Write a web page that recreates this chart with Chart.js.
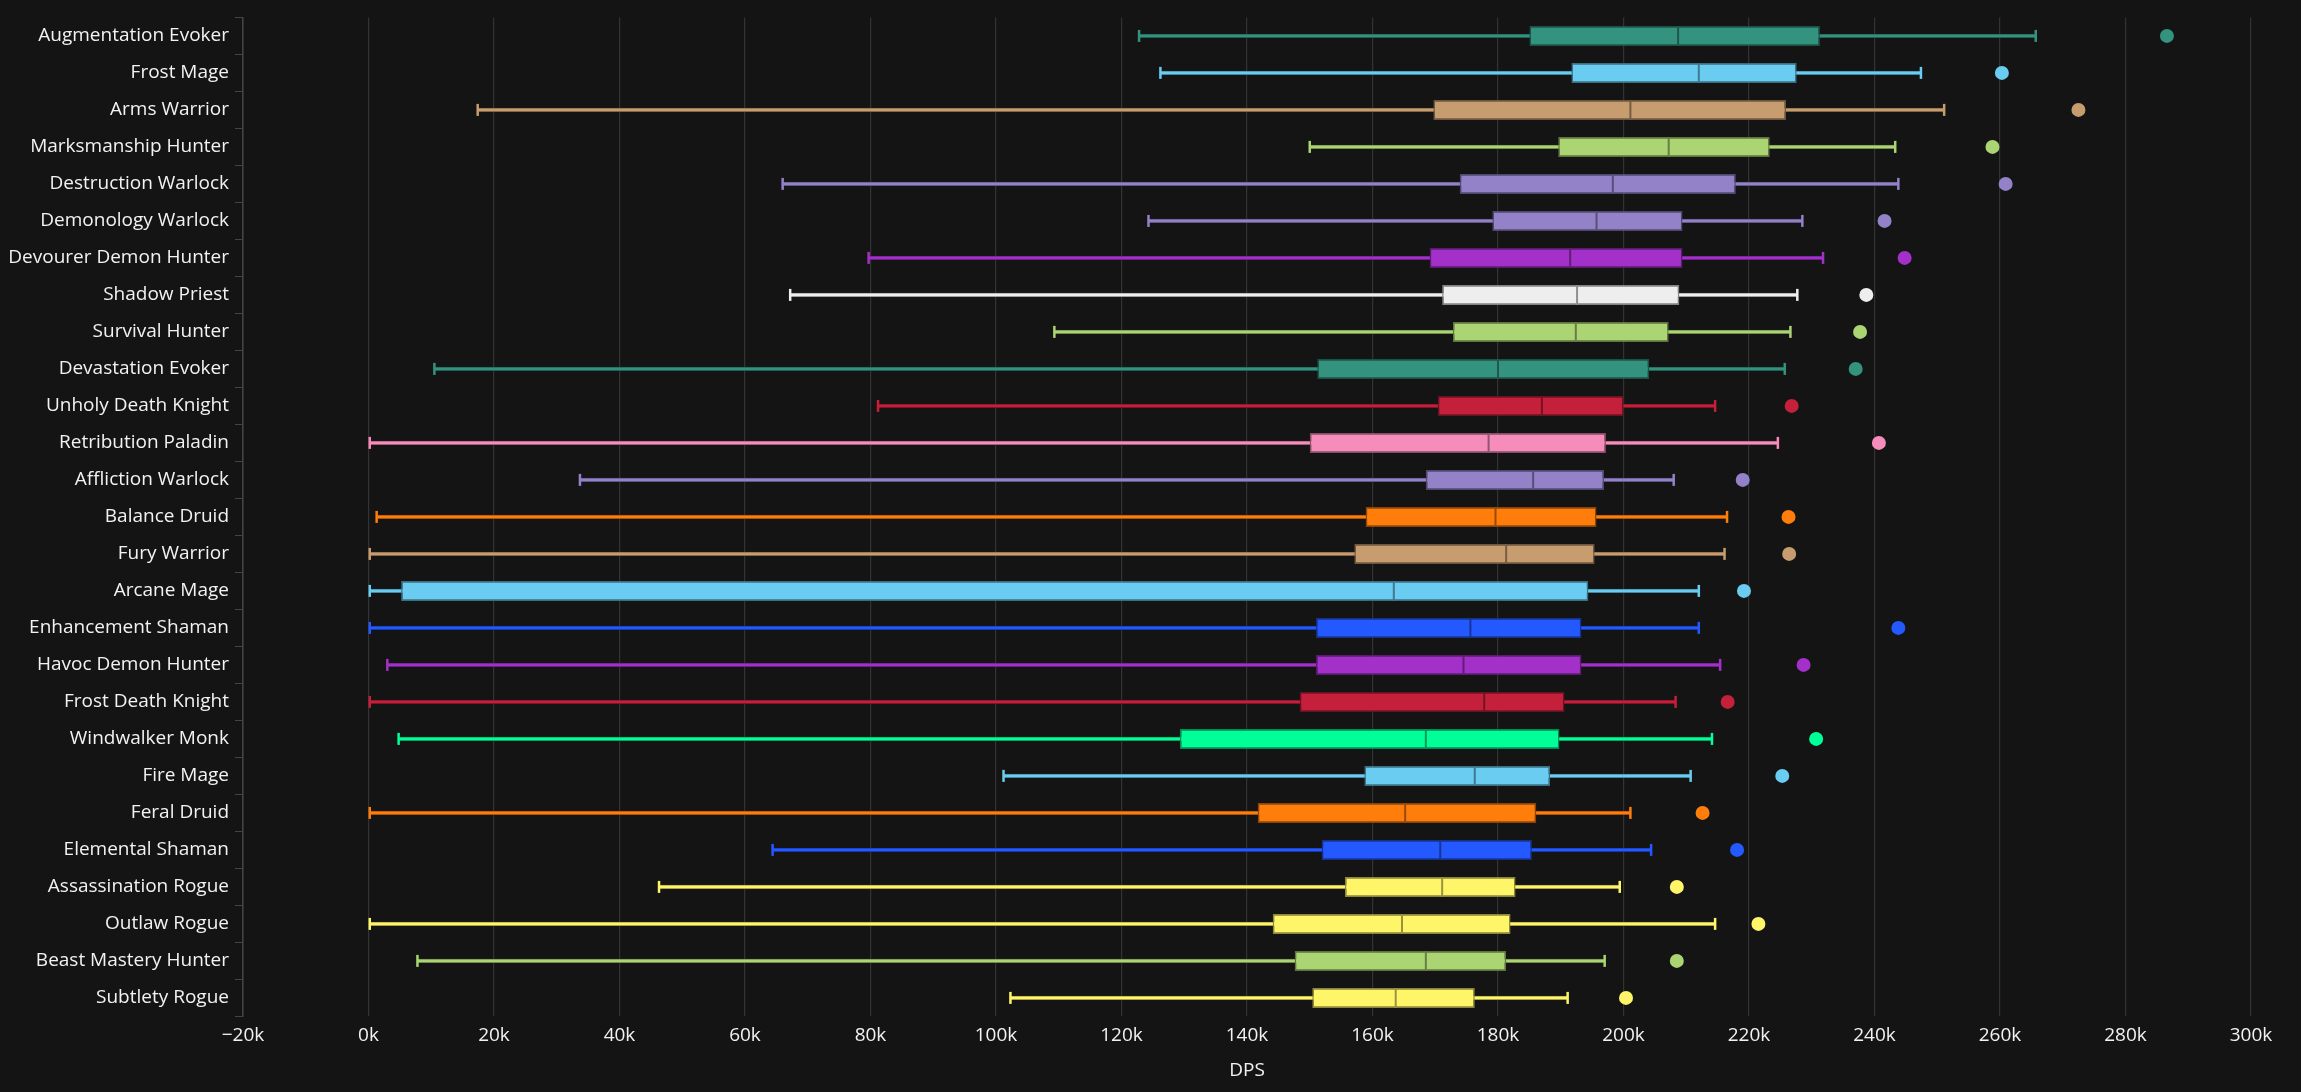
<!DOCTYPE html>
<html>
<head>
<meta charset="utf-8">
<title>DPS box plot</title>
<script src="https://cdn.jsdelivr.net/npm/chart.js@4.4.1/dist/chart.umd.min.js"></script>
<style>
  html, body { margin: 0; padding: 0; background: #141414; }
  #wrap { width: 2301px; height: 1092px; }
</style>
</head>
<body>
<div id="wrap"><canvas id="chart"></canvas></div>
<script>
// values are in thousands of DPS
var specs = ["Augmentation Evoker", "Frost Mage", "Arms Warrior", "Marksmanship Hunter", "Destruction Warlock",
  "Demonology Warlock", "Devourer Demon Hunter", "Shadow Priest", "Survival Hunter", "Devastation Evoker",
  "Unholy Death Knight", "Retribution Paladin", "Affliction Warlock", "Balance Druid", "Fury Warrior",
  "Arcane Mage", "Enhancement Shaman", "Havoc Demon Hunter", "Frost Death Knight", "Windwalker Monk",
  "Fire Mage", "Feral Druid", "Elemental Shaman", "Assassination Rogue", "Outlaw Rogue",
  "Beast Mastery Hunter", "Subtlety Rogue"];
var whiskerLow = [122.8, 126.2, 17.4, 150.0, 66.0, 124.3, 79.7, 67.2, 109.3, 10.5, 81.2, 0.2, 33.7, 1.3, 0.2,
  0.2, 0.2, 3.0, 0.2, 4.8, 101.2, 0.2, 64.4, 46.3, 0.2, 7.8, 102.3];
var q1 = [185.0, 191.7, 169.7, 189.6, 173.9, 179.1, 169.1, 171.1, 172.8, 151.2, 170.4, 150.0, 168.5, 158.9, 157.1,
  5.2, 151.0, 151.0, 148.4, 129.3, 158.7, 141.7, 151.9, 155.6, 144.1, 147.6, 150.4];
var median = [208.7, 212.0, 201.1, 207.2, 198.3, 195.7, 191.5, 192.6, 192.4, 180.0, 187.0, 178.5, 185.6, 179.6, 181.3,
  163.4, 175.6, 174.5, 177.8, 168.5, 176.3, 165.2, 170.8, 171.1, 164.7, 168.5, 163.7];
var q3 = [231.3, 227.6, 225.9, 223.3, 217.9, 209.4, 209.4, 208.9, 207.2, 204.1, 200.0, 197.2, 196.9, 195.7, 195.4,
  194.4, 193.3, 193.3, 190.6, 189.8, 188.3, 186.1, 185.4, 182.8, 182.0, 181.3, 176.3];
var whiskerHigh = [265.7, 247.4, 251.1, 243.3, 243.8, 228.5, 231.8, 227.7, 226.6, 225.7, 214.6, 224.6, 208.0, 216.5, 216.1,
  212.0, 212.0, 215.4, 208.3, 214.1, 210.7, 201.1, 204.4, 199.4, 214.6, 197.0, 191.1];
var topParse = [286.6, 260.3, 272.5, 258.8, 260.9, 241.6, 244.8, 238.7, 237.7, 237.0, 226.8, 240.7, 219.0, 226.3, 226.4,
  219.2, 243.8, 228.7, 216.6, 230.7, 225.3, 212.6, 218.1, 208.5, 221.5, 208.5, 200.4];
var xTicks = { min: -20, max: 300, step: 20 };

var CLASS = {
  evoker: "#33937F", mage: "#69CCF0", warrior: "#C79C6E", hunter: "#ABD473", warlock: "#9482C9",
  dh: "#A330C9", priest: "#EEEEEE", dk: "#C41F3B", paladin: "#F58CBA", druid: "#FF7D0A",
  shaman: "#2459FF", monk: "#00FF96", rogue: "#FFF569"
};
var specClass = ["evoker", "mage", "warrior", "hunter", "warlock", "warlock", "dh", "priest", "hunter", "evoker",
  "dk", "paladin", "warlock", "druid", "warrior", "mage", "shaman", "dh", "dk", "monk",
  "mage", "druid", "shaman", "rogue", "rogue", "hunter", "rogue"];

function shade(hex, f) {
  var r = parseInt(hex.substr(1, 2), 16), g = parseInt(hex.substr(3, 2), 16), b = parseInt(hex.substr(5, 2), 16);
  return "rgb(" + Math.round(r * f) + "," + Math.round(g * f) + "," + Math.round(b * f) + ")";
}

var colors = specClass.map(function (c) { return CLASS[c]; });
var edge = colors.map(function (c) { return shade(c, 0.55); });
var midLine = colors.map(function (c) { return shade(c, 0.6); });

function pts(vals) {
  return vals.map(function (v, i) { return { x: v, y: specs[i] }; });
}

var TEXT = "#f2f2f2";
Chart.defaults.font.family = "'Open Sans', 'Noto Sans', sans-serif";
Chart.defaults.font.size = 19;
Chart.defaults.color = TEXT;

new Chart(document.getElementById("chart"), {
  type: "bar",
  data: {
    labels: specs,
    datasets: [
      {
        // median marks
        type: "line",
        data: pts(median),
        showLine: false,
        pointStyle: "line",
        pointRotation: 90,
        pointRadius: 10,
        pointBorderWidth: 2,
        pointBorderColor: midLine,
        order: 0,
      },
      {
        // top parse dots
        type: "line",
        data: pts(topParse),
        showLine: false,
        pointStyle: "circle",
        pointRadius: 7,
        pointBorderWidth: 0,
        pointBackgroundColor: colors,
        order: 0,
      },
      {
        // whisker caps
        type: "line",
        data: pts(whiskerLow).concat(pts(whiskerHigh)),
        showLine: false,
        pointStyle: "line",
        pointRotation: 90,
        pointRadius: 6,
        pointBorderWidth: 2.5,
        pointBorderColor: colors.concat(colors),
        order: 1,
      },
      {
        // boxes q1..q3
        data: specs.map(function (s, i) { return [q1[i], q3[i]]; }),
        backgroundColor: colors,
        borderColor: edge,
        borderWidth: 1.5,
        borderSkipped: false,
        barPercentage: 0.54,
        categoryPercentage: 1,
        grouped: false,
        order: 2,
      },
      {
        // whisker line
        data: specs.map(function (s, i) { return [whiskerLow[i], whiskerHigh[i]]; }),
        backgroundColor: colors,
        borderColor: edge,
        borderWidth: 0.8,
        borderSkipped: false,
        barThickness: 3.5,
        grouped: false,
        order: 3,
      },
    ],
  },
  options: {
    indexAxis: "y",
    responsive: true,
    maintainAspectRatio: false,
    animation: false,
    layout: { padding: { top: 15, right: 50, bottom: 10, left: 0 } },
    plugins: {
      legend: { display: false },
      tooltip: { enabled: false },
    },
    scales: {
      x: {
        type: "linear",
        min: xTicks.min,
        max: xTicks.max,
        ticks: {
          stepSize: xTicks.step,
          padding: 8,
          color: TEXT,
          callback: function (v) { return (v < 0 ? "\u2212" + (-v) : v) + "k"; },
        },
        grid: { color: "#333333", lineWidth: 1.2, drawTicks: false },
        border: { display: false },
        title: { display: true, text: "DPS", color: TEXT, font: { size: 19 }, padding: { top: 4, bottom: 0 } },
      },
      y: {
        type: "category",
        ticks: { color: TEXT, padding: 6, autoSkip: false },
        grid: { display: true, drawOnChartArea: false, drawTicks: true, tickLength: 8, color: "#444444" },
        border: { display: true, color: "#444444", width: 1.5 },
        afterFit: function (scale) { scale.width = 243; },
      },
    },
  },
});
</script>
</body>
</html>
